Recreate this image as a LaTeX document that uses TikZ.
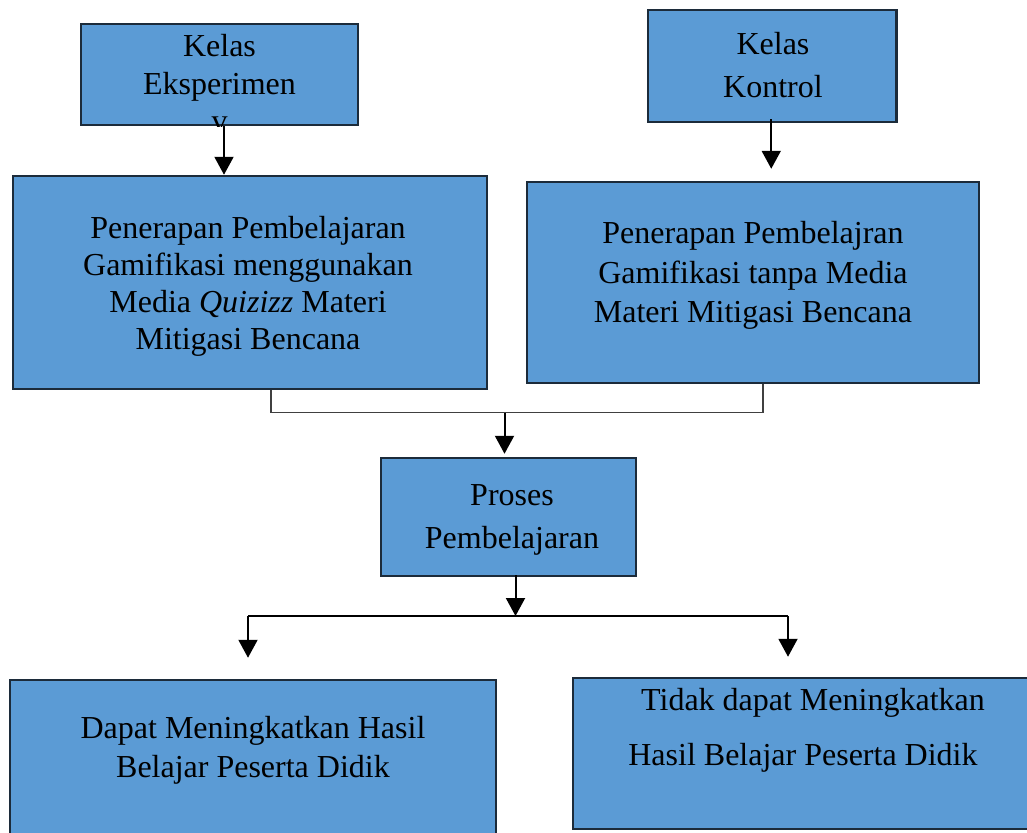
\documentclass[tikz,border=0pt]{standalone}
\usepackage{fontspec}
\setmainfont{Liberation Serif}
\usetikzlibrary{arrows.meta}
\definecolor{boxfill}{HTML}{5B9BD5}
\definecolor{boxline}{HTML}{1C2B3A}
\definecolor{brkline}{HTML}{404040}
\tikzset{
  boxst/.style={draw=boxline, fill=boxfill, line width=2.5pt, inner sep=0pt, rectangle},
  txt/.style={inner sep=0pt, align=center, text=black},
  arr/.style={draw=black, line width=2pt, -{Triangle[width=19pt,length=18pt]}},
  brk/.style={draw=brkline, line width=1.5pt},
  hln/.style={draw=black, line width=1.5pt}
}
\newcommand{\fs}[1]{\fontsize{32}{#1}\selectfont}
\begin{document}
\begin{tikzpicture}[x=1pt,y=-1pt]
\useasboundingbox (0,0) rectangle (1027,832);
\clip (0,0) rectangle (1027,832);
% boxes
\node[boxst, minimum width=277pt, minimum height=101pt] (ke) at (219.5,74.5) {};
\node[boxst, minimum width=248.5pt, minimum height=112pt] (kk) at (772.25,66) {};
\node[boxst, minimum width=474pt, minimum height=213pt] (p1) at (250,282.5) {};
\node[boxst, minimum width=452pt, minimum height=201pt] (p2) at (753,282.5) {};
\node[boxst, minimum width=255pt, minimum height=118pt] (pr) at (508.5,517) {};
\node[boxst, minimum width=486pt, minimum height=180pt] (d1) at (253,770) {};
\node[boxst, minimum width=467pt, minimum height=151pt] (d2) at (806.5,753.5) {};
% texts
\begin{scope}
\clip (ke.south west) rectangle (ke.north east);
\node[txt, font=\fs{37.5}] (tke) at (219.5,83.5) {Kelas\\Eksperimen\\v};
\end{scope}
\node[txt, font=\fs{43}] (tkk) at (773,65.5) {Kelas\\Kontrol};
\node[txt, font=\fs{37}] (tp1) at (248,286.5) {Penerapan Pembelajaran\\Gamifikasi menggunakan\\Media \textit{Quizizz} Materi\\Mitigasi Bencana};
\node[txt, font=\fs{39.5}] (tp2) at (753,275.5) {Penerapan Pembelajran\\Gamifikasi tanpa Media\\Materi Mitigasi Bencana};
\node[txt, font=\fs{42.5}] (tpr) at (512,520) {Proses\\Pembelajaran};
\node[txt, font=\fs{38.7}] (td1) at (253,750) {Dapat Meningkatkan Hasil\\Belajar Peserta Didik};
\node[txt, font=\fs{55}] (td2) at (803,730) {\hspace*{20pt}Tidak dapat Meningkatkan\\Hasil Belajar Peserta Didik};
% junction points
\coordinate (j1) at (504.5,412.5);
\coordinate (j2) at (515.5,616);
\coordinate (hl) at (248,616);
\coordinate (hr) at (788,616);
% connectors
\draw[arr] ([xshift=4.5pt]ke.south) -- ([xshift=4.5pt]ke.south |- p1.north);
\draw[arr] ([xshift=-1pt,yshift=4pt]kk.south) -- ([xshift=-1pt,yshift=12pt]kk.south |- p2.north);
\draw[brk] ([xshift=21pt]p1.south) |- (j1) -| ([xshift=10pt]p2.south);
\draw[arr] (j1) -- ([yshift=3pt]j1 |- pr.north);
\draw[arr] ([xshift=7pt,yshift=2pt]pr.south) -- (j2);
\draw[hln] (hl) -- (hr);
\draw[arr] (hl) -- ([yshift=21pt]hl |- d1.north);
\draw[arr] (hr) -- ([yshift=20pt]hr |- d2.north);
\end{tikzpicture}
\end{document}
